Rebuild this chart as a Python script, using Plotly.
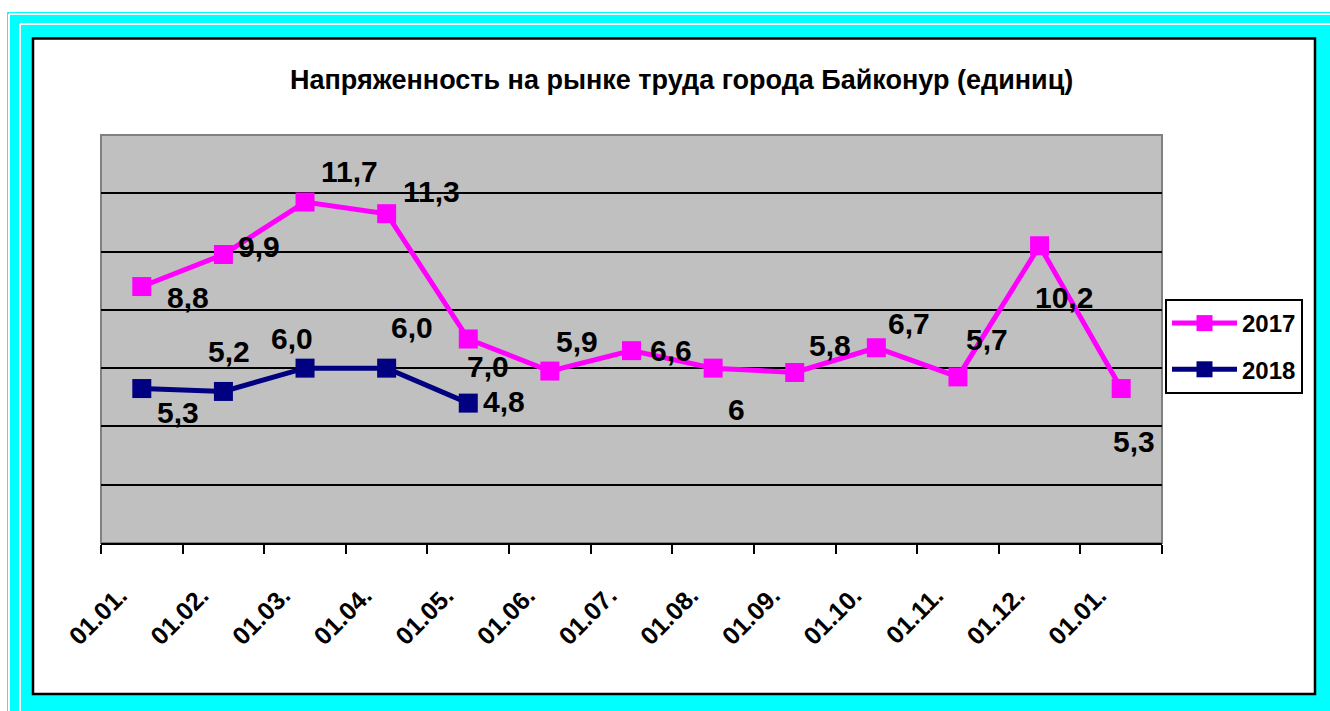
import plotly.graph_objects as go

# ---- data ----
tick_labels = ["01.01.", "01.02.", "01.03.", "01.04.", "01.05.", "01.06.", "01.07.",
               "01.08.", "01.09.", "01.10.", "01.11.", "01.12.", "01.01."]
values_2017 = [8.8, 9.9, 11.7, 11.3, 7.0, 5.9, 6.6, 6.0, 5.85, 6.7, 5.7, 10.2, 5.3]
labels_2017 = ["8,8", "9,9", "11,7", "11,3", "7,0", "5,9", "6,6", "6", "5,8", "6,7", "5,7", "10,2", "5,3"]
values_2018 = [5.3, 5.2, 6.0, 6.0, 4.8]
labels_2018 = ["5,3", "5,2", "6,0", "6,0", "4,8"]

# label offsets in pixels (dx right, dy down) - styling only
off_2017 = [(46, 11), (36, -8), (44, -31), (45, -22), (20, 27), (27, -30), (39, 0),
            (23, 41), (35, -27), (33, -24), (29, -37), (24, 52), (13, 53)]
off_2018 = [(36, 24), (6, -40), (-13, -30), (25, -41), (36, -2)]

W, H = 1330, 711
L, R, T, B = 101, 1162, 135, 543


def px(x):
    return (x - L) / (R - L)


def py(y):
    return (B - y) / (B - T)


MAGENTA = "#FF00FF"
NAVY = "#000080"
GRAY = "#C0C0C0"
CYAN = "#00FFFF"
FONT = "Arial, Liberation Sans"

xs17 = list(range(len(values_2017)))
xs18 = list(range(len(values_2018)))
bounds = [i - 0.5 for i in range(len(xs17) + 1)]

fig = go.Figure()
fig.add_trace(go.Scatter(x=xs17, y=values_2017, mode="lines+markers", name="<b>2017</b>",
                         line=dict(color=MAGENTA, width=5),
                         marker=dict(symbol="square", size=19, color=MAGENTA),
                         legendgroup="a"))
fig.add_trace(go.Scatter(x=xs18, y=values_2018, mode="lines+markers", name="<b>2018</b>",
                         line=dict(color=NAVY, width=5),
                         marker=dict(symbol="square", size=19, color=NAVY),
                         legendgroup="b"))

lab_font = dict(family=FONT, size=30, color="black")
annotations = []
for xi, v, t, (dx, dy) in zip(xs17, values_2017, labels_2017, off_2017):
    annotations.append(dict(x=xi, y=v, xref="x", yref="y", text="<b>%s</b>" % t,
                            showarrow=False, xshift=dx, yshift=-dy, font=lab_font))
for xi, v, t, (dx, dy) in zip(xs18, values_2018, labels_2018, off_2018):
    annotations.append(dict(x=xi, y=v, xref="x", yref="y", text="<b>%s</b>" % t,
                            showarrow=False, xshift=dx, yshift=-dy, font=lab_font))

annotations.append(dict(x=px(681), y=py(80), xref="paper", yref="paper",
                        text="<b>Напряженность на рынке труда города Байконур (единиц)</b>",
                        showarrow=False, xanchor="center", yanchor="middle",
                        font=dict(family=FONT, size=27, color="black")))

shapes = [
    # cyan outer frame
    dict(type="rect", xref="paper", yref="paper", x0=px(7), x1=px(1335), y0=py(12), y1=py(716),
         fillcolor=CYAN, line=dict(width=0), layer="below"),
    # white bevel lines top/left
    dict(type="line", xref="paper", yref="paper", x0=px(9), x1=px(1335), y0=py(14), y1=py(14),
         line=dict(color="white", width=2), layer="below"),
    dict(type="line", xref="paper", yref="paper", x0=px(9), x1=px(9), y0=py(14), y1=py(716),
         line=dict(color="white", width=2), layer="below"),
    dict(type="line", xref="paper", yref="paper", x0=px(20), x1=px(1335), y0=py(24), y1=py(24),
         line=dict(color="white", width=2), layer="below"),
    dict(type="line", xref="paper", yref="paper", x0=px(20), x1=px(20), y0=py(24), y1=py(716),
         line=dict(color="white", width=2), layer="below"),
    # white chart area with black border
    dict(type="rect", xref="paper", yref="paper", x0=px(33), x1=px(1315), y0=py(38.5), y1=py(694),
         fillcolor="white", line=dict(color="black", width=2.5), layer="below"),
    # plot area
    dict(type="rect", xref="paper", yref="paper", x0=0, x1=1, y0=0, y1=1,
         fillcolor=GRAY, line=dict(color="#808080", width=2), layer="below"),
]

fig.update_layout(
    width=W, height=H,
    margin=dict(l=L, r=W - R, t=T, b=H - B, pad=0),
    paper_bgcolor="white", plot_bgcolor=GRAY,
    showlegend=True,
    legend=dict(x=px(1165), y=py(299), xanchor="left", yanchor="top",
                bgcolor="white", bordercolor="black", borderwidth=2,
                font=dict(family=FONT, size=24, color="black"),
                tracegroupgap=12, traceorder="grouped", itemwidth=65),
    annotations=annotations,
    shapes=shapes,
    xaxis=dict(range=[-0.5, 12.5], tickmode="array", tickvals=xs17,
               ticktext=["<b>%s</b>" % t for t in tick_labels],
               tickangle=-45, ticks="", showgrid=False, zeroline=False,
               showline=True, linecolor="black", linewidth=2,
               tickfont=dict(family=FONT, size=25, color="black"),
               ticklabelstandoff=26, ticklabelshift=-22,
               minor=dict(tickvals=bounds, ticks="outside",
                          ticklen=9, tickwidth=2, tickcolor="black", showgrid=False)),
    xaxis2=dict(range=[-0.5, 12.5], overlaying="x", side="bottom", anchor="y",
                tickmode="array", tickvals=bounds, ticks="inside", ticklen=9,
                tickwidth=2, tickcolor="black", showticklabels=False,
                showgrid=False, zeroline=False, showline=False),
    yaxis=dict(range=[0, 14], dtick=2, showticklabels=False, ticks="",
               showgrid=True, gridcolor="black", gridwidth=2, zeroline=False, showline=False),
)

fig.write_html("out.html", config={"displayModeBar": False},
               post_script="document.body.style.margin='0px';")
